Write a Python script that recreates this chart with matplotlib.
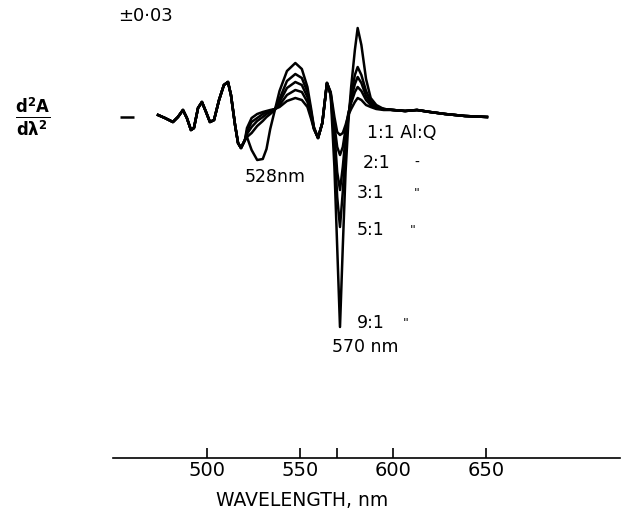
import numpy as np
import matplotlib
matplotlib.use('Agg')
import matplotlib.pyplot as plt

# wavelength grid (nm) and second-derivative traces (arbitrary units)
wl_left = [473.7, 477.4, 481.7, 484.4, 487.1, 489.2, 491.4, 493.0, 495.2, 497.3,
           499.5, 501.6, 503.8, 506.5, 509.1, 511.3, 512.9, 515.1, 516.7, 518.3, 520.4]
d2a_left = [2, -1, -5, 0, 7, -1, -13, -11, 9, 15,
            5, -5, -3, 17, 32, 35, 22, -8, -26, -31, -23]

wl_mid = [521.5, 524, 527, 530, 532, 534, 536.5, 539, 543, 547.5, 551, 554, 556, 557.5,
          559.7, 562, 564.5, 566.5, 568.5, 570, 571.5, 573, 574.5, 576, 577.5, 579.5,
          581, 583, 585.5, 588, 591, 595]

d2a_9_1 = [-20, -33, -43, -42, -32, -12, 7, 26, 46, 54, 48, 30, 8, -10,
           -21, -6, 34, 22, -50, -130, -210, -130, -55, -5, 30, 67,
           89, 72, 38, 19, 12, 8]
d2a_5_1 = [-20, -16, -9, -4, 0, 3, 7, 18, 36, 43, 39, 25, 5, -11,
           -21, -6, 34, 22, -25, -80, -110, -75, -30, 0, 22, 42,
           50, 42, 26, 16, 10, 8]
d2a_3_1 = [-17, -10, -4, 0, 3, 5, 8, 15, 29, 35, 32, 20, 3, -11,
           -21, -6, 34, 23, -15, -55, -73, -50, -20, 2, 18, 33,
           40, 34, 21, 14, 9, 8]
d2a_2_1 = [-14, -5, -1, 3, 5, 6, 8, 12, 22, 27, 25, 15, 1, -12,
           -21, -6, 34, 24, -8, -30, -38, -30, -12, 4, 14, 25,
           30, 26, 17, 12, 9, 8]
d2a_1_1 = [-11, -1, 3, 5, 6, 7, 8, 10, 16, 19, 17, 10, -2, -12,
           -21, -6, 34, 25, 0, -15, -18, -16, -8, 2, 8, 15,
           19, 17, 12, 10, 8, 7]

wl_right = [600, 606.5, 612.9, 619.9, 628, 638.7, 650.5]
d2a_right = [7, 6, 7, 5, 3, 1, 0]

ratios = ['1:1', '2:1', '3:1', '5:1', '9:1']
traces = [d2a_1_1, d2a_2_1, d2a_3_1, d2a_5_1, d2a_9_1]

xticks = [500, 550, 570, 600, 650]
xticklabels = ['500', '550', '', '600', '650']
baseline_mark = (453.2, 460.8)

fig = plt.figure(figsize=(6.23, 5.12), dpi=100)
ax = fig.add_axes([113/623, 1-458/512, 507/623, 448/512])

for tr in traces:
    x = wl_left + wl_mid + wl_right
    y = d2a_left + tr + d2a_right
    ax.plot(x, y, color='black', lw=1.8, solid_joinstyle='round')

ax.hlines(0, baseline_mark[0], baseline_mark[1], color='black', lw=1.8)

ax.set_xlim(449.5, 722)
ax.set_ylim(-341, 107)
for s in ['left', 'top', 'right']:
    ax.spines[s].set_visible(False)
ax.spines['bottom'].set_linewidth(1.2)
ax.set_yticks([])
ax.set_xticks(xticks)
ax.set_xticklabels(xticklabels, fontsize=14)
ax.tick_params(axis='x', direction='in', length=7, width=1.2, pad=2)

# annotations
ax.text(536.6, -60, '528nm', fontsize=12.5, ha='center', va='center')
ax.text(585, -230, '570 nm', fontsize=12.5, ha='center', va='center')
ax.text(586, -16, '1:1 Al:Q', fontsize=12.5, ha='left', va='center')
ax.text(583.9, -46, '2:1', fontsize=12.5, ha='left', va='center')
ax.text(612.9, -46, '-', fontsize=10, ha='center', va='center')
ax.text(580.6, -76, '3:1', fontsize=12.5, ha='left', va='center')
ax.text(612.9, -76, '"', fontsize=9, ha='center', va='center')
ax.text(580.6, -113, '5:1', fontsize=12.5, ha='left', va='center')
ax.text(610.8, -113, '"', fontsize=9, ha='center', va='center')
ax.text(580.6, -206, '9:1', fontsize=12.5, ha='left', va='center')
ax.text(607, -206, '"', fontsize=9, ha='center', va='center')

fig.text(118/623, 1-16/512, '±0·03', fontsize=13, ha='left', va='center')
fig.text(33/623, 1-117/512, r'$\mathbf{\frac{d^2A}{d\lambda^2}}$', fontsize=17,
         ha='center', va='center')
fig.text(302/623, 1-500/512, 'WAVELENGTH, nm', fontsize=13.5, ha='center', va='center')

fig.savefig('out.png', dpi=100)
